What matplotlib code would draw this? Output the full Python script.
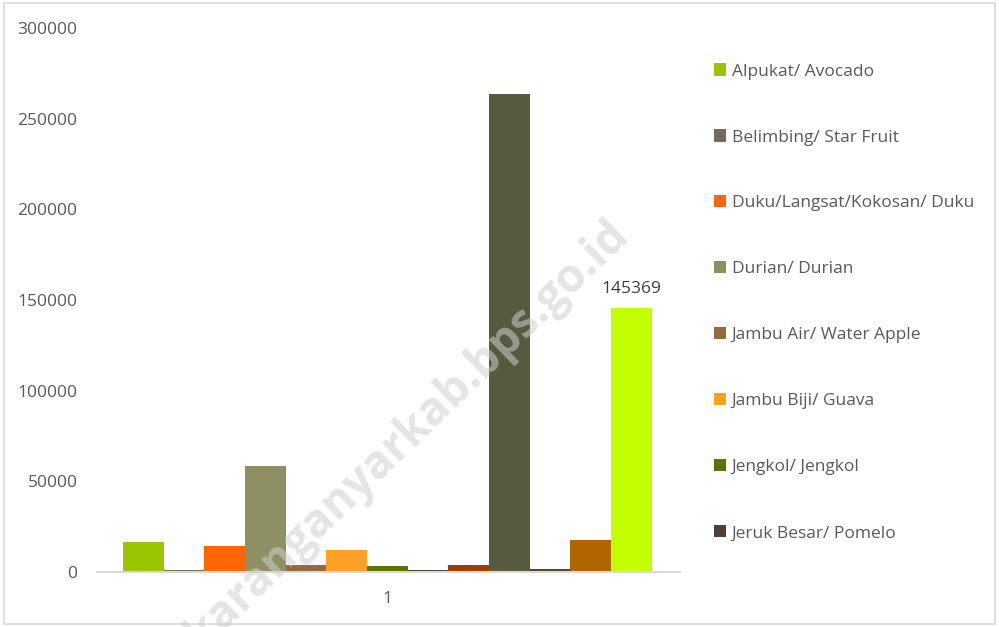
import matplotlib
matplotlib.use("Agg")
import matplotlib.pyplot as plt
from matplotlib.patches import Rectangle, Patch

series = ["Alpukat/ Avocado", "Belimbing/ Star Fruit", "Duku/Langsat/Kokosan/ Duku",
          "Durian/ Durian", "Jambu Air/ Water Apple", "Jambu Biji/ Guava",
          "Jengkol/ Jengkol", "Jeruk Besar/ Pomelo", "Jeruk Siam/ Orange",
          "Mangga/ Mango", "Manggis/ Mangosteen", "Melinjo/ Melinjo", "Nangka/ Jackfruit"]
values = [16800, 1100, 14400, 58200, 3900, 12200, 3400, 1100, 4000, 263400, 1700, 17800, 145369]
colors = ["#99C600", "#756B5C", "#FF6600", "#8E8F62", "#946A3F", "#FFA027",
          "#5A7401", "#4A4038", "#9E3D00", "#575A3E", "#5A4330", "#B06500", "#C3FF00"]
category = "1"
yticks = [0, 50000, 100000, 150000, 200000, 250000, 300000]
legend_count = 8

fam = ["Open Sans", "DejaVu Sans"]
txt = "#595959"

fig = plt.figure(figsize=(9.99, 6.27), dpi=100)
fig.patches.append(Rectangle((0.004, 0.004), 0.992, 0.992, transform=fig.transFigure,
                             fill=False, edgecolor="#D9D9D9", linewidth=1.2))
ax = fig.add_axes([0.097, 0.0877, 0.5836, 0.8676])

xs = list(range(len(values)))
bars = ax.bar(xs, values, width=1.0, color=colors, linewidth=0)
ax.set_xlim(-1.14, 13.19)
ax.set_ylim(0, 300000)
ax.set_yticks(yticks)
ax.set_yticklabels([str(v) for v in yticks], fontfamily=fam, fontsize=12.5, color=txt)
ax.tick_params(axis="y", length=0, pad=14)
ax.set_xticks([(len(values) - 1) / 2])
ax.set_xticklabels([category], fontfamily=fam, fontsize=12.5, color=txt)
ax.tick_params(axis="x", length=0, pad=14)
for s in ["top", "right", "left"]:
    ax.spines[s].set_visible(False)
ax.spines["bottom"].set_color("#D9D9D9")
ax.spines["bottom"].set_linewidth(1.5)

last = len(values) - 1
ax.annotate(str(values[last]), (xs[last], values[last]), xytext=(0, 8),
            textcoords="offset points", ha="center", va="bottom",
            fontfamily=fam, fontsize=12.5, color="#404040")

handles = [Patch(facecolor=colors[i], edgecolor="none") for i in range(legend_count)]
leg = fig.legend(handles, series[:legend_count], loc="upper left",
                 bbox_to_anchor=(0.708, 0.91), frameon=False,
                 prop={"family": fam, "size": 12.5}, labelcolor=txt,
                 handlelength=0.7, handleheight=0.7, handletextpad=0.3,
                 labelspacing=2.87, borderaxespad=0)

fig.text(0.408, 0.308, "karanganyarkab.bps.go.id", rotation=44, ha="center", va="center",
         fontfamily=fam, fontsize=33, fontweight="bold", color="#CFCFCF", alpha=0.55,
         zorder=10)

fig.savefig("out.png", dpi=100, facecolor="white")
